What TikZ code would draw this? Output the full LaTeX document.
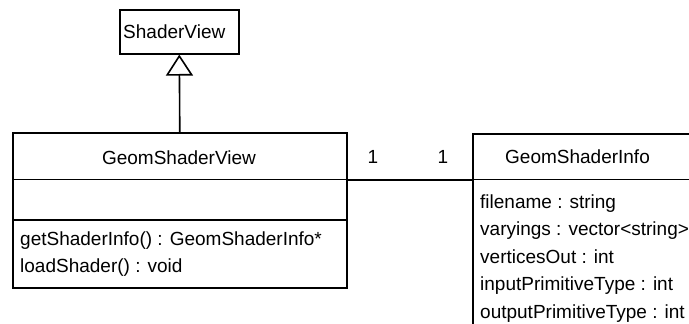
\documentclass[tikz,border=0pt]{standalone}
\usepackage{fontspec}
\setmainfont{Liberation Sans}
\usetikzlibrary{arrows.meta}
\newcommand\umlfont{\fontsize{19}{23}\selectfont}
\tikzset{
  umlbox/.style={draw, line width=1.6pt, rectangle, inner sep=0pt, anchor=north west},
  umltext/.style={font=\umlfont, inner sep=0pt},
  inherit/.style={line width=1.6pt, -{Triangle[open, length=21pt, width=27pt, line join=miter]}},
  assoc/.style={line width=1.6pt},
}
\begin{document}
\begin{tikzpicture}[x=1pt, y=-1pt]
\useasboundingbox (0,0) rectangle (689,324);
\clip (0,0) rectangle (689,324);

% ShaderView (base class)
\node[umlbox, minimum width=119pt, minimum height=44pt] (sv) at (119,9) {};
\node[umltext, anchor=base west] (svName) at (123,38) {ShaderView};

% GeomShaderView
\node[umlbox, minimum width=334pt, minimum height=46.5pt] (gsvTitle) at (12,132) {};
\node[umlbox, minimum width=334pt, minimum height=40.5pt] (gsvAttr) at (12,178.5) {};
\node[umlbox, minimum width=334pt, minimum height=68pt] (gsvOps) at (12,219) {};
\node[umltext, anchor=base] (gsvName) at (179,164) {GeomShaderView};
\node[umltext, anchor=base west] (gsvOp1) at (20,245) {getShaderInfo() : GeomShaderInfo*};
\node[umltext, anchor=base west] (gsvOp2) at (20,272.5) {loadShader() : void};

% GeomShaderInfo
\node[umlbox, minimum width=300pt, minimum height=45.5pt] (gsiTitle) at (472,133) {};
\node[umlbox, minimum width=300pt, minimum height=200pt] (gsiAttr) at (472,178.5) {};
\node[umltext, anchor=base] (gsiName) at (577.5,163) {GeomShaderInfo};
\node[umltext, anchor=base west] (gsiA1) at (480,208) {filename : string};
\node[umltext, anchor=base west] (gsiA2) at (480,235.5) {varyings : vector<string>};
\node[umltext, anchor=base west] (gsiA3) at (480,263) {verticesOut : int};
\node[umltext, anchor=base west] (gsiA4) at (480,290.5) {inputPrimitiveType : int};
\node[umltext, anchor=base west] (gsiA5) at (480,318) {outputPrimitiveType : int};

% inheritance and association
\draw[inherit] (gsvTitle.north) -- (sv.south);
\draw[assoc] (gsvTitle.south east) -- (gsvTitle.south east -| gsiTitle.west);
\node[umltext, anchor=base] (multL) at (373,163) {1};
\node[umltext, anchor=base] (multR) at (443,163) {1};
\end{tikzpicture}
\end{document}
